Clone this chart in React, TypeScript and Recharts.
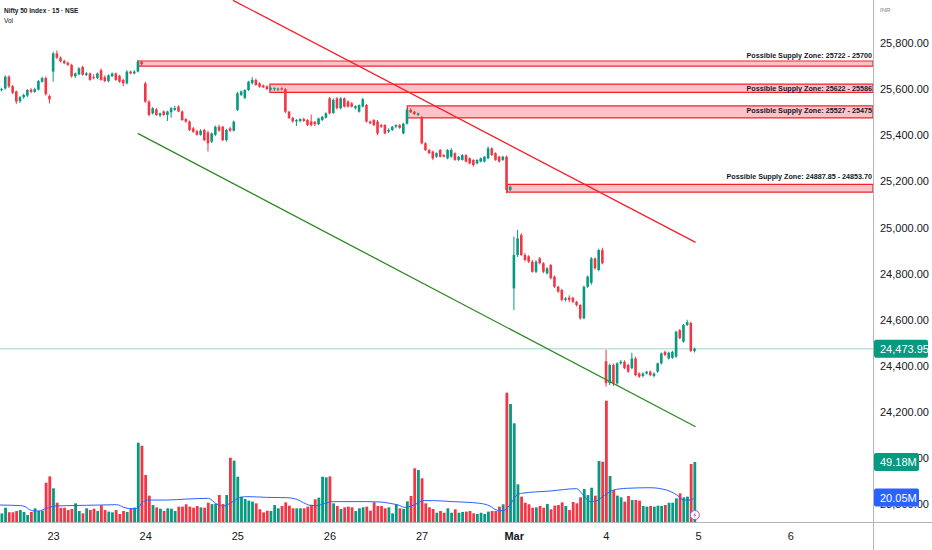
import React from 'react';
import {
  ComposedChart,
  Bar,
  Line,
  XAxis,
  YAxis,
  ReferenceLine,
  ReferenceArea,
  ReferenceDot,
} from 'recharts';

// [open, high, low, close, volume (M)] per 15-minute bar
type Row = [number, number, number, number, number];

const feb20: Row[] = [
  [25598, 25606, 25590, 25600, 7], [25603, 25660, 25598, 25654, 11.7], [25654, 25660, 25605, 25612, 8],
  [25612, 25618, 25578, 25584, 8], [25590, 25594, 25536, 25546, 9], [25548, 25570, 25540, 25565, 9.8],
  [25565, 25580, 25558, 25575, 8.2], [25572, 25600, 25566, 25596, 5.7], [25598, 25604, 25582, 25588, 8.2],
  [25588, 25606, 25584, 25600, 11.2], [25598, 25640, 25594, 25635, 9], [25632, 25654, 25628, 25648, 9.3],
  [25648, 25655, 25572, 25578, 32.2], [25570, 25576, 25538, 25555, 37.4],
];

const feb23: Row[] = [
  [25676, 25762, 25632, 25755, 27.6], [25755, 25768, 25730, 25736, 15.8], [25736, 25742, 25716, 25720, 11.7],
  [25722, 25728, 25708, 25712, 11.7], [25714, 25720, 25700, 25705, 9.8], [25705, 25710, 25650, 25656, 10.7],
  [25656, 25672, 25648, 25668, 15.3], [25664, 25695, 25660, 25690, 9], [25696, 25702, 25658, 25662, 7.1],
  [25662, 25674, 25656, 25669, 11.2], [25668, 25672, 25636, 25640, 9.8], [25652, 25664, 25642, 25648, 10.9],
  [25648, 25672, 25644, 25668, 9], [25682, 25690, 25636, 25640, 13.7], [25652, 25660, 25630, 25635, 9.8],
  [25635, 25664, 25630, 25660, 8.5], [25656, 25672, 25652, 25668, 7.9], [25668, 25672, 25636, 25640, 9.8],
  [25658, 25662, 25628, 25632, 6.6], [25640, 25645, 25612, 25625, 9], [25625, 25682, 25620, 25676, 8.2],
  [25676, 25680, 25664, 25668, 11.2], [25668, 25682, 25664, 25676, 11.7], [25676, 25726, 25672, 25718, 65],
  [25718, 25724, 25702, 25708, 62.5],
];

const feb24: Row[] = [
  [25625, 25632, 25540, 25546, 38.5], [25546, 25552, 25482, 25488, 21.6], [25495, 25522, 25490, 25517, 13.9],
  [25512, 25518, 25484, 25488, 12], [25486, 25498, 25478, 25495, 10.9], [25503, 25508, 25484, 25488, 9],
  [25488, 25506, 25462, 25503, 11.2], [25500, 25522, 25476, 25517, 10.9], [25510, 25528, 25506, 25518, 9],
  [25524, 25530, 25500, 25503, 12.6], [25503, 25508, 25462, 25466, 12.6], [25470, 25474, 25454, 25459, 14.5],
  [25459, 25464, 25418, 25423, 12.6], [25430, 25436, 25410, 25415, 11.7], [25418, 25424, 25398, 25402, 13.1],
  [25402, 25426, 25398, 25420, 12], [25423, 25428, 25374, 25379, 11.7], [25412, 25420, 25329, 25365, 15.8],
  [25372, 25412, 25366, 25408, 14.7], [25402, 25442, 25396, 25437, 15], [25437, 25446, 25415, 25420, 22.1],
  [25437, 25440, 25374, 25379, 14.7], [25379, 25428, 25372, 25423, 22.1], [25430, 25436, 25414, 25420, 52.7],
  [25420, 25464, 25416, 25459, 50.3],
];

const feb25: Row[] = [
  [25510, 25588, 25505, 25582, 37.1], [25575, 25594, 25570, 25590, 20.8], [25562, 25600, 25556, 25596, 18.8],
  [25596, 25636, 25592, 25632, 17.5], [25626, 25652, 25620, 25640, 16.7], [25640, 25646, 25614, 25618, 15.3],
  [25625, 25630, 25606, 25610, 10.4], [25616, 25620, 25604, 25608, 7.9], [25612, 25616, 25596, 25600, 9.3],
  [25598, 25612, 25594, 25604, 9], [25600, 25608, 25592, 25604, 13.9], [25598, 25606, 25592, 25602, 11.2],
  [25604, 25608, 25594, 25598, 13.1], [25600, 25604, 25496, 25502, 16.1], [25502, 25506, 25470, 25475, 13.4],
  [25475, 25480, 25455, 25460, 11.2], [25460, 25470, 25440, 25466, 11.2], [25462, 25474, 25456, 25470, 11.2],
  [25470, 25476, 25458, 25462, 11.2], [25466, 25470, 25440, 25445, 12.6], [25460, 25490, 25438, 25444, 14],
  [25458, 25462, 25440, 25448, 18.6], [25448, 25476, 25444, 25473, 20], [25466, 25484, 25462, 25480, 37.1],
  [25476, 25500, 25472, 25495, 36.6],
];

const feb26: Row[] = [
  [25560, 25566, 25490, 25495, 37.4], [25497, 25560, 25492, 25553, 15.3], [25560, 25566, 25512, 25517, 13.1],
  [25517, 25565, 25512, 25560, 10.7], [25560, 25564, 25520, 25524, 12], [25546, 25552, 25520, 25524, 12.6],
  [25538, 25544, 25520, 25524, 12], [25517, 25530, 25512, 25526, 9], [25502, 25534, 25498, 25531, 11.2],
  [25524, 25562, 25520, 25556, 12], [25531, 25536, 25455, 25459, 12.6], [25459, 25464, 25448, 25452, 9.3],
  [25466, 25470, 25440, 25444, 16.1], [25459, 25466, 25400, 25408, 13.1], [25444, 25450, 25432, 25437, 13.1],
  [25444, 25448, 25404, 25408, 11.2], [25416, 25430, 25410, 25423, 12], [25423, 25440, 25418, 25437, 7.1],
  [25437, 25448, 25430, 25444, 14.5], [25444, 25448, 25428, 25432, 11.2], [25408, 25454, 25404, 25450, 10.7],
  [25450, 25516, 25446, 25510, 16.9], [25510, 25518, 25496, 25500, 21.3], [25502, 25506, 25488, 25492, 44],
  [25488, 25498, 25484, 25495, 42.6],
];

const feb27: Row[] = [
  [25478, 25484, 25360, 25365, 35.8], [25365, 25370, 25332, 25336, 15.3], [25336, 25340, 25318, 25322, 12],
  [25329, 25334, 25292, 25300, 10.7], [25307, 25326, 25302, 25322, 7.6], [25336, 25340, 25303, 25307, 9],
  [25314, 25318, 25304, 25307, 7.6], [25300, 25340, 25296, 25336, 11.2], [25307, 25345, 25302, 25336, 7.6],
  [25322, 25326, 25289, 25293, 10.4], [25293, 25310, 25288, 25307, 7.6], [25293, 25318, 25290, 25314, 8.2],
  [25314, 25318, 25282, 25286, 8.5], [25300, 25304, 25274, 25278, 9], [25293, 25296, 25264, 25271, 7.1],
  [25278, 25296, 25274, 25293, 6.6], [25286, 25304, 25282, 25300, 7.6], [25286, 25310, 25282, 25307, 6.6],
  [25300, 25352, 25296, 25343, 8.5], [25343, 25348, 25310, 25314, 9], [25322, 25326, 25289, 25293, 9],
  [25307, 25311, 25282, 25286, 12.6], [25293, 25311, 25289, 25307, 14.5], [25307, 25312, 25148, 25163, 106],
  [25163, 25182, 25158, 25177, 96.7],
];

const mar2: Row[] = [
  [24736, 24960, 24642, 24881, 80.9], [24881, 24989, 24872, 24953, 30.9], [24967, 24975, 24876, 24881, 20.8],
  [24881, 24890, 24852, 24859, 15.8], [24875, 24880, 24846, 24852, 14.5], [24852, 24860, 24804, 24808, 11.7],
  [24808, 24858, 24802, 24852, 12], [24866, 24872, 24840, 24845, 13.1], [24845, 24850, 24802, 24808, 11.7],
  [24801, 24828, 24796, 24823, 14.7], [24837, 24842, 24775, 24780, 10.4], [24787, 24792, 24738, 24743, 13.4],
  [24743, 24748, 24716, 24722, 13.9], [24729, 24734, 24680, 24686, 16.1], [24686, 24698, 24680, 24693, 13.1],
  [24696, 24706, 24676, 24686, 9.8], [24695, 24700, 24672, 24678, 16.4], [24678, 24682, 24658, 24664, 15.3],
  [24664, 24668, 24600, 24606, 20.2], [24606, 24748, 24602, 24743, 27], [24743, 24792, 24738, 24787, 22.1],
  [24760, 24872, 24752, 24866, 28.1], [24866, 24870, 24818, 24823, 21.6], [24816, 24908, 24810, 24902, 50],
  [24902, 24912, 24840, 24845, 49.4],
];

const mar4: Row[] = [
  [24420, 24470, 24310, 24325, 99.4], [24325, 24410, 24316, 24404, 37.7], [24404, 24410, 24312, 24324, 26.2],
  [24324, 24416, 24318, 24411, 21.6], [24411, 24426, 24405, 24418, 20.2], [24418, 24424, 24386, 24390, 16.7],
  [24404, 24410, 24370, 24375, 21.3], [24390, 24457, 24385, 24432, 18], [24432, 24440, 24355, 24360, 18],
  [24367, 24372, 24348, 24353, 17.5], [24356, 24372, 24350, 24367, 13.1], [24367, 24378, 24362, 24375, 12.6],
  [24375, 24380, 24355, 24360, 13.1], [24356, 24372, 24350, 24367, 12.6], [24375, 24414, 24370, 24411, 13.4],
  [24411, 24458, 24406, 24454, 13.1], [24461, 24466, 24442, 24447, 13.9], [24432, 24462, 24428, 24457, 15.8],
  [24435, 24465, 24430, 24461, 15.8], [24440, 24552, 24435, 24548, 19.4], [24555, 24560, 24515, 24520, 23.5],
  [24505, 24582, 24500, 24577, 20.2], [24577, 24600, 24572, 24590, 20.8], [24586, 24592, 24460, 24465, 47.5],
  [24465, 24480, 24458, 24473.95, 49.18],
];

const sessions: Row[][] = [feb20, feb23, feb24, feb25, feb26, feb27, mar2, mar4];

// x-axis: first bar of each session
const dayTicks = [14, 39, 64, 89, 114, 139, 164, 189, 214];
const dayLabels = ['23', '24', '25', '26', '27', 'Mar', '4', '5', '6'];
const priceTicks = [23800, 24000, 24200, 24400, 24600, 24800, 25000, 25200, 25400, 25600, 25800];

// volume moving average (bar index, value in M)
const maIdx = [-0.5, 5, 6.3, 8.1, 9.9, 12.1, 14.4, 17.6, 23, 26.6, 31.1, 33.4, 35.2, 36.6, 38.4, 39.7, 44.7, 50.1, 56, 58.3, 60.1, 61.9, 64.1, 66.4, 71.8, 77.3, 80, 81.8, 83.6, 85.4, 87.6, 89.9, 94.4, 98.9, 102.6, 105.3, 107.5, 109.3, 111.1, 113, 114.3, 117.1, 121.6, 129.7, 132.4, 134.2, 136, 137.8, 139.7, 141, 148.7, 155.9, 157.7, 159.6, 161.4, 163.6, 165.9, 169.5, 175.8, 180.3, 183.1, 184.9, 186.7, 188];
const maVol = [13.9, 13.4, 12.6, 9.3, 9, 11.2, 13.1, 13.4, 13.7, 13.9, 14.2, 11.7, 10.9, 11.2, 16.7, 18, 18, 18.8, 19.4, 14.7, 13.1, 15.3, 19.4, 20.8, 20.2, 19.9, 18.6, 15.8, 13.7, 13.4, 15.3, 16.7, 16.7, 16.7, 16.4, 15.3, 13.9, 12, 13.1, 15.8, 17.5, 17.5, 16.8, 15.3, 13.1, 9.8, 9.3, 13.9, 22.1, 23.5, 25.4, 27.3, 22.1, 16.7, 17.5, 22.1, 26.2, 27.6, 28.1, 26.2, 22.1, 18, 18, 20.05];

const zones = [
  { from: 36.84, top: 25722, bottom: 25700, text: 'Possible Supply Zone: 25722 - 25700' },
  { from: 72.7, top: 25622, bottom: 25586, text: 'Possible Supply Zone: 25622 - 25586' },
  { from: 110.0, top: 25527, bottom: 25475, text: 'Possible Supply Zone: 25527 - 25475' },
  { from: 137.1, top: 25187, bottom: 25153, text: 'Possible Supply Zone: 24887.85 - 24853.70' },
];
const zoneLabelDy = [-3, 6.5, 7.5, -5];

const resistance = [{ x: 62.7, y: 25985 }, { x: 188.2, y: 24935.8 }];
const support = [{ x: 36.84, y: 25408.4 }, { x: 188.2, y: 24136.2 }];

const UP = '#089981';
const DOWN = '#f23645';
const FONT = '"Liberation Sans", Arial, sans-serif';
const X_DOMAIN: [number, number] = [-0.5155, 236.33];
const PRICE_DOMAIN: [number, number] = [23723.04, 25986.45];
const VOL_DOMAIN: [number, number] = [0, 427.8];
const MARGIN = { top: 0, right: 0, bottom: 0, left: 0 };

const candles = sessions.flat().map(([open, high, low, close, volume], idx) => ({
  idx, open, high, low, close, volume, up: close >= open,
}));
const maData = maIdx.map((idx, i) => ({ idx, ma: maVol[i] }));
const last = candles[candles.length - 1];
const lastMa = maVol[maVol.length - 1];

function Candle(props: any) {
  const { x, width, payload } = props;
  let { y, height } = props;
  if (x == null || !payload) return null;
  if (height < 0) { y += height; height = -height; }
  const { open, high, low, close, up } = payload;
  const span = high - low;
  const toY = (p: number) => (span > 0 ? y + ((high - p) / span) * height : y);
  const cx = x + width / 2;
  const color = up ? UP : DOWN;
  const top = toY(Math.max(open, close));
  const bot = toY(Math.min(open, close));
  return (
    <g>
      <line x1={cx} x2={cx} y1={y} y2={y + height} stroke={color} strokeWidth={1} />
      <rect x={cx - 1.3} y={top} width={2.6} height={Math.max(bot - top, 1)} fill={color} />
    </g>
  );
}

function VolBar(props: any) {
  const { x, y, width, height, payload } = props;
  if (x == null || !payload) return null;
  const cx = x + width / 2;
  return <rect x={cx - 1.4} y={y} width={2.8} height={Math.max(height, 0)} fill={payload.up ? UP : DOWN} />;
}

function ZoneLabel(props: any) {
  const { viewBox, text, dy } = props;
  if (!viewBox) return null;
  return (
    <text x={viewBox.x + viewBox.width - 1} y={viewBox.y + dy} textAnchor="end" fontSize={7.2}
      fontWeight={700} fill="#131722" fontFamily={FONT}>{text}</text>
  );
}

function Badge(props: any) {
  const { viewBox, text, fill, w } = props;
  if (!viewBox) return null;
  const left = viewBox.x + viewBox.width + 1;
  const cy = viewBox.y;
  return (
    <g>
      <rect x={left} y={cy - 9} width={w} height={18} rx={2} fill={fill} />
      <text x={left + 6} y={cy + 4} fontSize={11} fill="#fff" fontFamily={FONT}>{text}</text>
    </g>
  );
}

function Bolt(p: any) {
  const { cx, cy } = p;
  return (
    <g>
      <circle cx={cx} cy={cy} r={4.5} fill="#fff" stroke="#b553d4" strokeWidth={1} />
      <path d={`M${cx + 0.8} ${cy - 3} L${cx - 1.6} ${cy + 0.4} L${cx} ${cy + 0.4} L${cx - 0.8} ${cy + 3} L${cx + 1.6} ${cy - 0.4} L${cx} ${cy - 0.4} Z`} fill="#b553d4" />
    </g>
  );
}

const fmtPrice = (v: number) => v.toLocaleString('en-US', { minimumFractionDigits: 2, maximumFractionDigits: 2 });

export default function App() {
  return (
    <div style={{ position: 'absolute', left: 0, top: 0, width: 932, height: 550, background: '#fff', fontFamily: FONT }}>
      <ComposedChart width={932} height={550} data={candles} margin={MARGIN}>
        <XAxis xAxisId="m" type="number" dataKey="idx" domain={X_DOMAIN} allowDataOverflow ticks={dayTicks}
          interval={0} height={28} axisLine={false} tickLine={false}
          tick={(t: any) => {
            const i = dayTicks.indexOf(t.payload.value);
            return (
              <text x={t.x} y={540} textAnchor="middle" fontSize={11} fill="#131722" fontFamily={FONT}
                fontWeight={dayLabels[i] === 'Mar' ? 700 : 400}>{dayLabels[i]}</text>
            );
          }} />
        <XAxis xAxisId="v" type="number" dataKey="idx" domain={X_DOMAIN} allowDataOverflow hide />
        <YAxis yAxisId="p" orientation="right" type="number" domain={PRICE_DOMAIN} allowDataOverflow
          ticks={priceTicks} interval={0} width={59} axisLine={false} tickLine={false}
          tick={(t: any) => (
            <text x={880} y={t.y + 4} fontSize={11} fill="#131722" fontFamily={FONT}>{fmtPrice(t.payload.value)}</text>
          )} />
        <YAxis yAxisId="vol" type="number" domain={VOL_DOMAIN} allowDataOverflow hide />

        <Bar xAxisId="v" yAxisId="vol" dataKey="volume" barSize={3} shape={<VolBar />} isAnimationActive={false} />
        <Line xAxisId="v" yAxisId="vol" data={maData} dataKey="ma" type="monotone" stroke="#2962ff"
          strokeWidth={1} dot={false} activeDot={false} isAnimationActive={false} />

        <ReferenceLine xAxisId="m" yAxisId="p" y={last.close} stroke={UP} strokeOpacity={0.4} strokeWidth={1} />
        {zones.map((z, i) => (
          <ReferenceArea key={i} xAxisId="m" yAxisId="p" x1={z.from} x2={X_DOMAIN[1]} y1={z.bottom} y2={z.top}
            fill="#f23645" fillOpacity={0.3} stroke="#f5202c" strokeWidth={1.2} ifOverflow="visible"
            label={<ZoneLabel text={z.text} dy={zoneLabelDy[i]} />} />
        ))}

        <Bar xAxisId="m" yAxisId="p" dataKey={(d: any) => [d.low, d.high]} barSize={3} shape={<Candle />}
          isAnimationActive={false} />

        <ReferenceLine xAxisId="m" yAxisId="p" segment={resistance} stroke="#f5202c" strokeWidth={1.3} ifOverflow="visible" />
        <ReferenceLine xAxisId="m" yAxisId="p" segment={support} stroke="#2b8a22" strokeWidth={1.3} ifOverflow="visible" />
        <ReferenceDot xAxisId="v" yAxisId="vol" x={last.idx} y={5.7} shape={<Bolt />} ifOverflow="visible" />
      </ComposedChart>

      {/* overlay with the same layout, so the scale badges sit above the tick labels */}
      <div style={{ position: 'absolute', left: 0, top: 0, pointerEvents: 'none' }}>
        <ComposedChart width={932} height={550} data={candles} margin={MARGIN}>
          <XAxis xAxisId="m" type="number" dataKey="idx" domain={X_DOMAIN} allowDataOverflow height={28}
            axisLine={false} tickLine={false} tick={false} />
          <XAxis xAxisId="v" type="number" dataKey="idx" domain={X_DOMAIN} allowDataOverflow hide />
          <YAxis yAxisId="p" orientation="right" type="number" domain={PRICE_DOMAIN} allowDataOverflow
            width={59} axisLine={false} tickLine={false} tick={false} />
          <YAxis yAxisId="vol" type="number" domain={VOL_DOMAIN} allowDataOverflow hide />
          <ReferenceLine xAxisId="m" yAxisId="p" y={last.close} stroke="none"
            label={<Badge text={fmtPrice(last.close)} fill={UP} w={54} />} />
          <ReferenceLine xAxisId="v" yAxisId="vol" y={last.volume} stroke="none"
            label={<Badge text={`${last.volume.toFixed(2)}M`} fill={UP} w={45} />} />
          <ReferenceLine xAxisId="v" yAxisId="vol" y={lastMa} stroke="none"
            label={<Badge text={`${lastMa.toFixed(2)}M`} fill="#2962ff" w={45} />} />
        </ComposedChart>
      </div>

      <div style={{ position: 'absolute', left: 4, top: 6, fontSize: 6.5, fontWeight: 700, color: '#131722', lineHeight: '10px' }}>
        Nifty 50 Index · 15 · NSE
      </div>
      <div style={{ position: 'absolute', left: 4, top: 16, fontSize: 6.5, color: '#131722', lineHeight: '10px' }}>Vol</div>
      <div style={{ position: 'absolute', left: 880, top: 6, fontSize: 6, color: '#787b86', lineHeight: '8px' }}>INR</div>
      <div style={{ position: 'absolute', left: 0, top: 522, width: 932, height: 1, background: '#b2b5be' }} />
      <div style={{ position: 'absolute', left: 873, top: 0, width: 1, height: 550, background: '#b2b5be' }} />
    </div>
  );
}
